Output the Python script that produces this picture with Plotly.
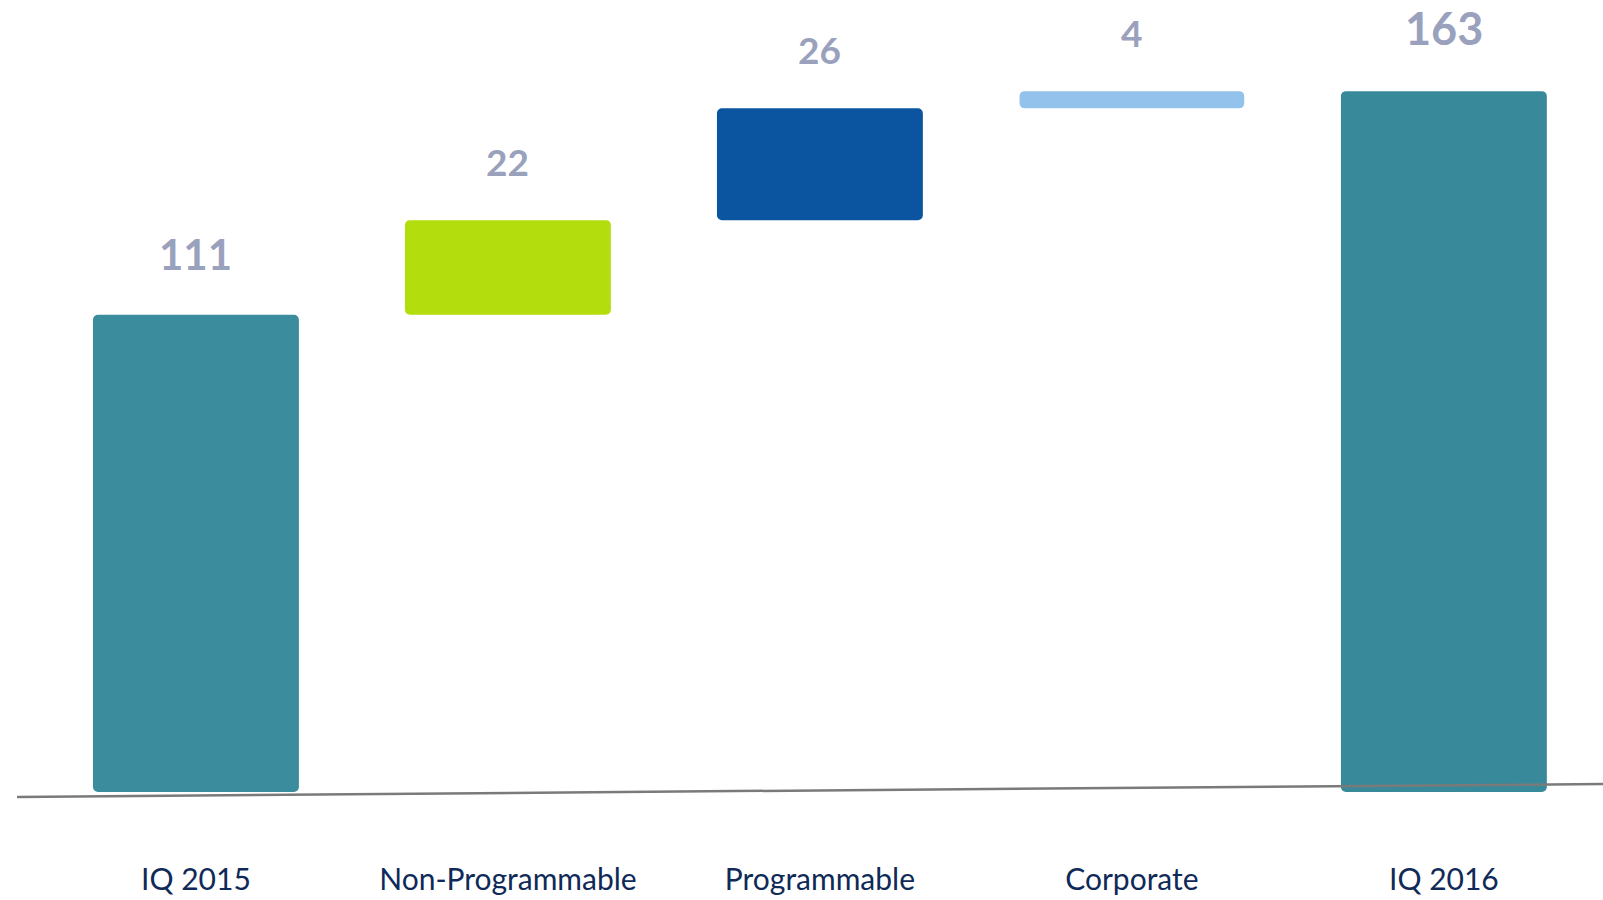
import plotly.graph_objects as go

# Waterfall: opening total, three contributions, closing total
categories = ["IQ 2015", "Non-Programmable", "Programmable", "Corporate", "IQ 2016"]
values = [111, 22, 26, 4, 163]
kinds = ["total", "step", "step", "step", "total"]

bar_colors = ["#3b8c9c", "#b3dd0c", "#0b55a0", "#93c2ec", "#38899a"]
bar_widths = [0.66, 0.66, 0.66, 0.72, 0.66]
label_sizes = [42, 37, 37, 37, 45]

# bases for the floating steps come from the running total
bases, heights = [], []
running = 0
for v, k in zip(values, kinds):
    if k == "total":
        bases.append(0)
        heights.append(v)
        running = v
    else:
        bases.append(running)
        heights.append(v)
        running += v
tops = [b + h for b, h in zip(bases, heights)]

fig = go.Figure()
fig.add_trace(go.Bar(
    x=list(range(len(categories))),
    y=heights,
    base=bases,
    width=bar_widths,
    marker=dict(color=bar_colors, line=dict(width=0)),
    hoverinfo="skip",
))

for i, (v, t) in enumerate(zip(values, tops)):
    fig.add_annotation(
        x=i, y=t, text=f"<b>{v}</b>", showarrow=False,
        yanchor="bottom", yshift=34,
        font=dict(family="Lato", size=label_sizes[i], color="#99a1bd"),
    )

# baseline rule
fig.add_shape(type="line", xref="paper", yref="paper",
              x0=0.0106, y0=-0.0063, x1=1.0, y1=0.0101,
              line=dict(color="#7a7a7a", width=2.5))

fig.update_layout(
    width=1603, height=900,
    margin=dict(l=0, r=0, t=0, b=108),
    paper_bgcolor="white", plot_bgcolor="white",
    showlegend=False,
    barcornerradius=5,
    xaxis=dict(
        range=[-0.628, 4.51],
        tickmode="array",
        tickvals=list(range(len(categories))),
        ticktext=categories,
        tickfont=dict(family="Lato", size=30, color="#0f2a58"),
        ticklabelstandoff=67,
        showgrid=False, zeroline=False, showline=False, ticks="",
    ),
    yaxis=dict(range=[0, 184.2], visible=False, showgrid=False, zeroline=False),
)

fig.write_html("out.html")
